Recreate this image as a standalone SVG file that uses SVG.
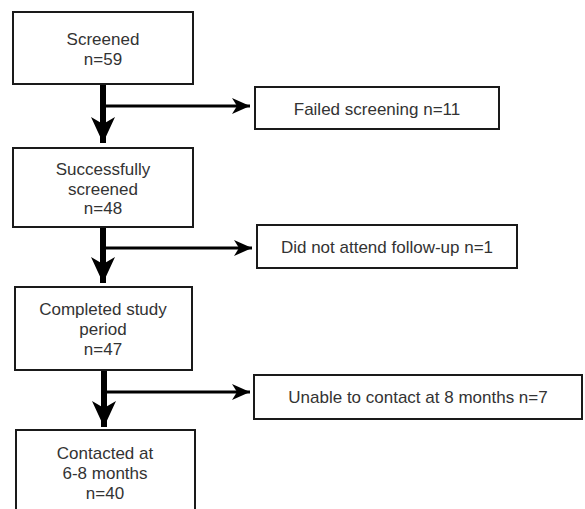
<svg xmlns="http://www.w3.org/2000/svg" width="585" height="509" viewBox="0 0 585 509">
<style>
.box{fill:#fff;stroke:#1a1a1a;stroke-width:2}
.t{font-family:"Liberation Sans",Arial,sans-serif;font-size:17px;fill:#333;text-anchor:middle}
.main{stroke:#000;stroke-width:6;fill:none}
.side{stroke:#000;stroke-width:3;fill:none}
</style>
<defs>
<marker id="big" markerUnits="userSpaceOnUse" markerWidth="26" markerHeight="24" refX="26" refY="12" orient="auto">
<path d="M0,0 L26,12 L0,24 L7,12 Z" fill="#000"/>
</marker>
<marker id="small" markerUnits="userSpaceOnUse" markerWidth="18" markerHeight="16" refX="18" refY="8" orient="auto">
<path d="M0,0 L18,8 L0,16 L5,8 Z" fill="#000"/>
</marker>
</defs>
<rect width="585" height="509" fill="#fff"/>
<g id="connectors">
<path class="main" d="M103,84 V143" marker-end="url(#big)"/>
<path class="side" d="M103,106 H250" marker-end="url(#small)"/>
<path class="main" d="M103,227 V283" marker-end="url(#big)"/>
<path class="side" d="M103,248 H252" marker-end="url(#small)"/>
<path class="main" d="M104,370 V427" marker-end="url(#big)"/>
<path class="side" d="M104,392 H250" marker-end="url(#small)"/>
</g>
<g id="screened">
<rect class="box" x="13" y="12" width="180" height="72"/>
<text class="t" x="103" y="45">Screened</text>
<text class="t" x="103" y="64.5">n=59</text>
</g>
<g id="failed">
<rect class="box" x="255" y="87" width="244" height="42"/>
<text class="t" x="377" y="115">Failed screening n=11</text>
</g>
<g id="successfully">
<rect class="box" x="13" y="148" width="180" height="79"/>
<text class="t" x="103" y="175">Successfully</text>
<text class="t" x="103" y="194.5">screened</text>
<text class="t" x="103" y="214">n=48</text>
</g>
<g id="didnot">
<rect class="box" x="257" y="225" width="260" height="43"/>
<text class="t" x="387" y="253">Did not attend follow-up n=1</text>
</g>
<g id="completed">
<rect class="box" x="15" y="287" width="177" height="83"/>
<text class="t" x="103" y="315">Completed study</text>
<text class="t" x="103" y="335">period</text>
<text class="t" x="103" y="355">n=47</text>
</g>
<g id="unable">
<rect class="box" x="254" y="375" width="328" height="44"/>
<text class="t" x="418" y="403">Unable to contact at 8 months n=7</text>
</g>
<g id="contacted">
<rect class="box" x="16" y="430" width="179" height="90"/>
<text class="t" x="105" y="459">Contacted at</text>
<text class="t" x="105" y="479">6-8 months</text>
<text class="t" x="105" y="499">n=40</text>
</g>
</svg>
